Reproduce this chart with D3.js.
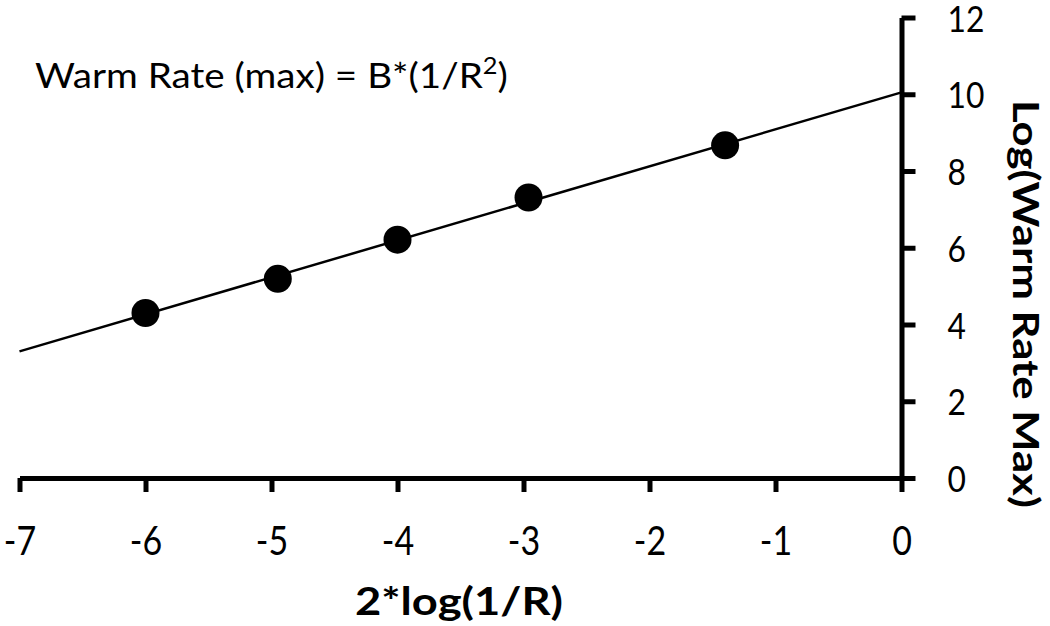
<!DOCTYPE html>
<html><head><meta charset="utf-8">
<script src="https://cdn.jsdelivr.net/npm/d3@7"></script>
<style>body{margin:0;background:#fff}svg{display:block}text{font-family:Lato,"Open Sans",sans-serif;fill:#000}</style>
</head><body>
<script>
const xValues = [-6, -4.95, -4, -2.96, -1.4];
const yValues = [4.30, 5.19, 6.21, 7.31, 8.67];
const fitX = [-7, 0];
const fitY = [3.3, 10.05];
const xTicks = [-7, -6, -5, -4, -3, -2, -1, 0];
const yTicks = [0, 2, 4, 6, 8, 10, 12];

const W = 1050, H = 626;
const FONT = "Lato, 'Open Sans', sans-serif";
const svg = d3.select("body").append("svg").attr("width", W).attr("height", H);
const x = d3.scaleLinear().domain([-7, 0]).range([19.5, 901.5]);
const y = d3.scaleLinear().domain([0, 12]).range([478, 17.5]);

// horizontally squeeze a text element to a target width
function fitWidth(sel, targetW, ax, ay) {
  const w = sel.node().getBBox().width;
  const s = targetW / w;
  sel.attr("transform", `translate(${ax},${ay}) scale(${s},1) translate(${-ax},${-ay})`);
}

// fit line
svg.append("line")
  .attr("x1", x(fitX[0])).attr("y1", y(fitY[0]))
  .attr("x2", x(fitX[1])).attr("y2", y(fitY[1]))
  .attr("stroke", "#000").attr("stroke-width", 2.5);

// x axis
const gx = svg.append("g").attr("transform", `translate(0,${y(0)})`)
  .call(d3.axisBottom(x).tickValues(xTicks).tickSize(14).tickSizeOuter(0).tickPadding(0)
    .tickFormat(d => d === 0 ? "0" : "-" + Math.abs(d)));
gx.select(".domain").attr("stroke-width", 5);
gx.selectAll(".tick line").attr("stroke-width", 5);
gx.selectAll(".tick text").attr("font-size", 40).attr("font-family", FONT)
  .attr("dy", null).attr("x", 0).attr("y", 77).attr("transform", "scale(0.85,1)");

// y axis
const gy = svg.append("g").attr("transform", `translate(${x(0)},0)`)
  .call(d3.axisRight(y).tickValues(yTicks).tickSize(14).tickSizeOuter(0).tickPadding(0).tickFormat(d3.format("d")));
gy.select(".domain").attr("stroke-width", 5);
gy.selectAll(".tick line").attr("stroke-width", 5);
gy.selectAll(".tick text").attr("font-size", 37).attr("font-family", FONT)
  .attr("x", 46).attr("dy", "0.37em")
  .attr("transform", "translate(46,0) scale(0.86,1) translate(-46,0)");

// points
svg.append("g").selectAll("circle").data(xValues).join("circle")
  .attr("cx", (d) => x(d)).attr("cy", (d, i) => y(yValues[i]))
  .attr("r", 14).attr("fill", "#000");

// titles
const xt = svg.append("text").attr("x", 459).attr("y", 615).attr("text-anchor", "middle")
  .attr("font-size", 39).attr("font-weight", "bold").text("2*log(1/R)");
fitWidth(xt, 208, 459, 615);

const yt = svg.append("text").attr("x", 0).attr("y", 0).attr("text-anchor", "middle")
  .attr("font-size", 37).attr("font-weight", "bold").text("Log(Warm Rate Max)");
const ytw = yt.node().getBBox().width;
yt.attr("transform", `translate(1013,304) rotate(90) scale(${408 / ytw},1)`);

const ann = svg.append("text").attr("x", 35).attr("y", 88).attr("font-size", 35);
ann.append("tspan").text("Warm Rate (max) = B*(1/R");
ann.append("tspan").attr("font-size", 23).attr("dy", -14).text("2");
ann.append("tspan").attr("dy", 14).text(")");
fitWidth(ann, 473, 35, 88);
</script>
</body></html>
